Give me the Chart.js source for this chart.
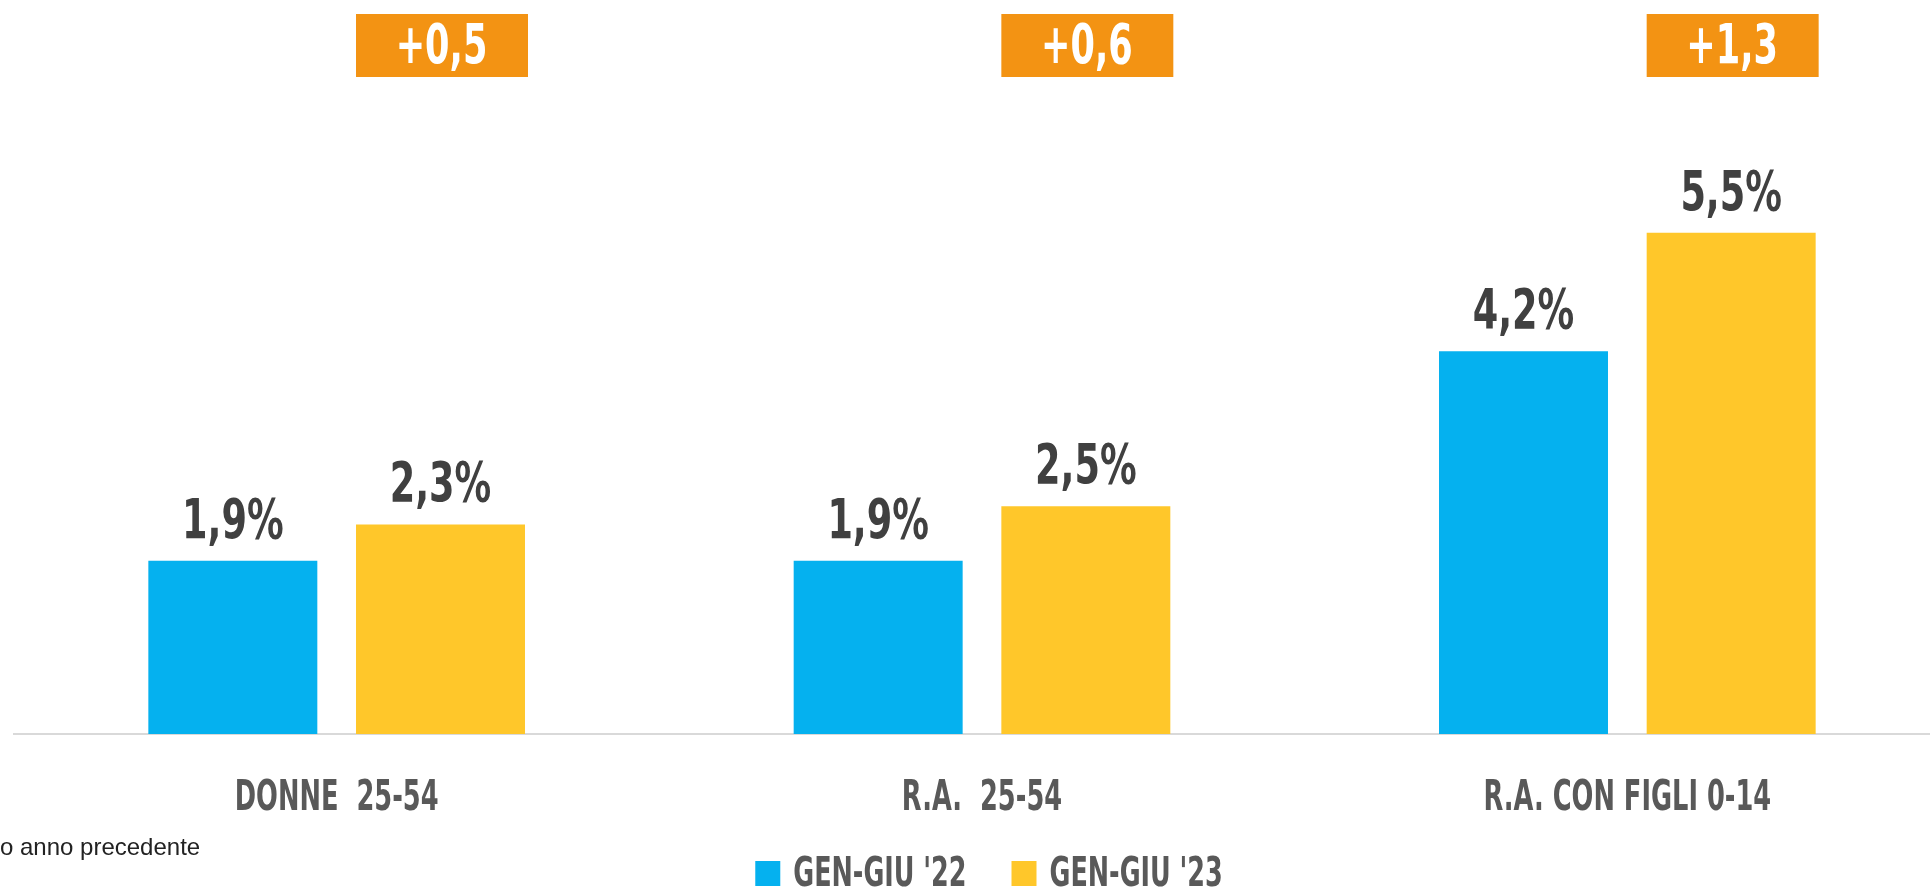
<!DOCTYPE html>
<html>
<head>
<meta charset="utf-8">
<script src="https://cdn.jsdelivr.net/npm/chart.js@4/dist/chart.umd.min.js"></script>
<style>
    html, body { margin: 0; padding: 0; background: #fff; overflow: hidden; }
    #wrap { position: relative; width: 1930px; height: 888px; overflow: hidden; }
    #mainChart { position: absolute; left: 0; top: 0; }
    #note { position: absolute; left: 0; top: 835px; font: 24px "Liberation Sans", Arial, sans-serif; line-height: 1; color: #222; white-space: nowrap; }
</style>
</head>
<body>
<div id="wrap">
    <canvas id="mainChart" width="1950" height="888"></canvas>
    <div id="note">o anno precedente</div>
</div>
<script>
const categories = ['DONNE  25-54', 'R.A.  25-54', 'R.A. CON FIGLI 0-14'];
const seriesLabels = ["GEN-GIU '22", "GEN-GIU '23"];
const gen22 = [1.9, 1.9, 4.2];
const gen23 = [2.3, 2.5, 5.5];
const deltas = ['+0,5', '+0,6', '+1,3'];

const COLORS = {
    BLUE: '#05B1EF',
    YELLOW: '#FFC72A',
    ORANGE: '#F39313',
    LABEL: '#404040',
    TICK: '#595959',
    AXIS: '#D9D9D9'
};
// no Oswald here: condensed DejaVu squeezed horizontally
const FONT = '"DejaVu Sans Condensed", "DejaVu Sans", sans-serif';

const fmt = v => v.toFixed(1).replace('.', ',') + '%';

function narrowText(ctx, text, x, y, sx) {
    ctx.save();
    ctx.translate(x, y);
    ctx.scale(sx, 1);
    ctx.fillText(text, 0, 0);
    ctx.restore();
}

const labelsPlugin = {
    id: 'barLabels',
    afterDatasetsDraw(chart) {
        const ctx = chart.ctx;
        ctx.save();
        ctx.textBaseline = 'alphabetic';
        ctx.textAlign = 'center';

        // values above bars
        ctx.font = 'bold 55px ' + FONT;
        ctx.fillStyle = COLORS.LABEL;
        chart.data.datasets.forEach((ds, i) => {
            chart.getDatasetMeta(i).data.forEach((bar, j) => {
                narrowText(ctx, fmt(ds.data[j]), bar.x, bar.y - 23, 0.74);
            });
        });

        // orange delta boxes over the second series
        chart.getDatasetMeta(1).data.forEach((bar, j) => {
            ctx.fillStyle = COLORS.ORANGE;
            ctx.fillRect(bar.x - bar.width / 2, 14, bar.width + 3, 63);
            ctx.fillStyle = '#fff';
            ctx.font = 'bold 55px ' + FONT;
            narrowText(ctx, deltas[j], bar.x + 1, 63, 0.71);
        });

        // category labels
        const xs = chart.scales.x;
        ctx.font = 'bold 42px ' + FONT;
        ctx.fillStyle = COLORS.TICK;
        categories.forEach((c, i) => {
            narrowText(ctx, c, xs.getPixelForTick(i), 810, 0.68);
        });

        // legend
        ctx.font = 'bold 41px ' + FONT;
        ctx.textAlign = 'left';
        const sx = 0.69, box = 25, gap = 13, spacing = 45;
        const widths = seriesLabels.map(s => ctx.measureText(s).width * sx);
        const total = widths.reduce((a, w) => a + box + gap + w, 0) + spacing * (seriesLabels.length - 1);
        let x = 989 - total / 2;
        chart.data.datasets.forEach((ds, i) => {
            ctx.fillStyle = ds.backgroundColor;
            ctx.fillRect(x, 861, box, box);
            ctx.fillStyle = COLORS.TICK;
            narrowText(ctx, ds.label, x + box + gap, 886, sx);
            x += box + gap + widths[i] + spacing;
        });
        ctx.restore();
    }
};

new Chart(document.getElementById('mainChart').getContext('2d'), {
    type: 'bar',
    data: {
        labels: categories,
        datasets: [
            { label: seriesLabels[0], data: gen22, backgroundColor: COLORS.BLUE, borderWidth: 0 },
            { label: seriesLabels[1], data: gen23, backgroundColor: COLORS.YELLOW, borderWidth: 0 }
        ]
    },
    options: {
        responsive: false,
        animation: false,
        devicePixelRatio: 1,
        categoryPercentage: 0.6436,
        barPercentage: 0.8137,
        layout: { padding: { top: 5, left: 14, right: 0, bottom: 154 } },
        plugins: {
            tooltip: { enabled: false },
            legend: { display: false }
        },
        scales: {
            x: {
                grid: { display: false, drawTicks: false },
                border: { display: true, color: COLORS.AXIS, width: 2 },
                ticks: { display: false }
            },
            y: {
                display: false,
                min: 0,
                max: 8
            }
        }
    },
    plugins: [labelsPlugin]
});
</script>
</body>
</html>
